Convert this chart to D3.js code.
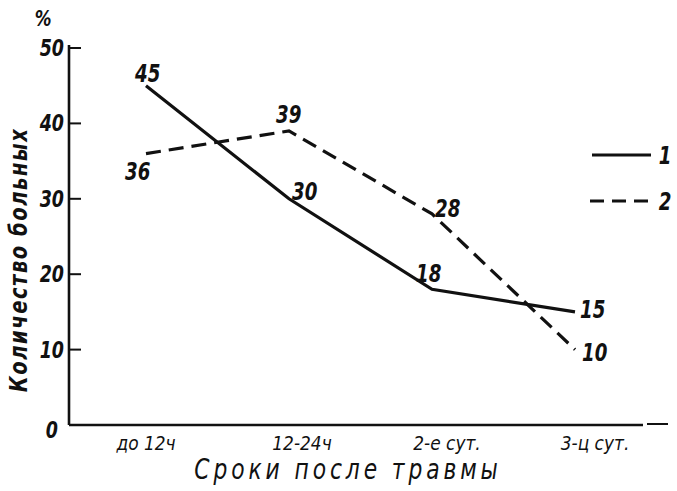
<!DOCTYPE html>
<html lang="ru">
<head>
<meta charset="UTF-8">
<title>Количество больных</title>
<script src="https://cdn.jsdelivr.net/npm/d3@7/dist/d3.min.js"></script>
<style>
  body { margin: 0; background: #fff; }
  svg { display: block; }
  text { font-family: "DejaVu Sans", sans-serif; font-style: italic; fill: #111; }
</style>
</head>
<body>
<svg id="mainsvg" width="677" height="491"></svg>
<script>
const categories = ["до 12ч", "12-24ч", "2-е сут.", "3-ц сут."]
const series1 = [45, 30, 18, 15]
const series2 = [36, 39, 28, 10]
const yTicks = [0, 10, 20, 30, 40, 50]
const seriesNames = ["1", "2"]

// сдвиг подписей категорий относительно точки
const catShift = [0, 13, 15, 20]
// где подписать каждую точку (dx, dy от точки, левый край)
const off1 = [[-11, -4], [3, 1], [-16, -7], [5, 6]]
const off2 = [[-21, 26], [-13, -8], [3, 3], [7, 11]]

const svg = d3.select('#mainsvg')
const ink = '#111'
const narrow = 0.76  // чертёжный шрифт узкий

const x = d3.scalePoint().domain(categories).range([146, 575])
const y = d3.scaleLinear().domain([0, 50]).range([425, 48])
const x0 = 69

// текст, сжатый по ширине
const put = (sel, fx, fy, sx = narrow) =>
  sel.attr('transform', (d, i) => `translate(${fx(d, i)},${fy(d, i)}) scale(${sx},1)`)

// оси
svg.append('line').attr('x1', x0).attr('x2', x0).attr('y1', y(50) - 3).attr('y2', y(0))
  .attr('stroke', ink).attr('stroke-width', 2.6)
svg.append('line').attr('x1', x0).attr('x2', 643).attr('y1', y(0)).attr('y2', y(0))
  .attr('stroke', ink).attr('stroke-width', 2.6)
svg.append('line').attr('x1', 647).attr('x2', 668).attr('y1', y(0) - 1).attr('y2', y(0) - 1)
  .attr('stroke', ink).attr('stroke-width', 2)

svg.selectAll('.ytick').data(yTicks.filter(d => d > 0)).join('line')
  .attr('class', 'ytick')
  .attr('x1', x0).attr('x2', x0 + 12)
  .attr('y1', d => y(d)).attr('y2', d => y(d))
  .attr('stroke', ink).attr('stroke-width', 2)

put(svg.selectAll('.ylab').data(yTicks).join('text')
  .attr('class', 'ylab')
  .attr('text-anchor', 'end')
  .attr('font-size', 23).attr('font-weight', 'bold')
  .text(d => d),
  d => d === 0 ? x0 - 11 : x0 - 5,
  d => d === 0 ? y(d) + 13 : y(d) + 8)

put(svg.append('text').datum('%').attr('text-anchor', 'middle')
  .attr('font-size', 22).attr('font-weight', 'bold').text(d => d),
  () => 43, () => 26)

put(svg.selectAll('.xlab').data(categories).join('text')
  .attr('class', 'xlab')
  .attr('text-anchor', 'middle')
  .attr('font-size', 20)
  .text(d => d),
  (d, i) => x(d) + catShift[i], () => 450, 0.85)

put(svg.append('text').datum('Сроки  после  травмы').attr('text-anchor', 'middle')
  .attr('font-size', 28).attr('letter-spacing', 5)
  .text(d => d),
  () => 348, () => 479, 0.78)

svg.append('text')
  .attr('transform', 'translate(27,260) rotate(-90) scale(0.78,1)')
  .attr('text-anchor', 'middle')
  .attr('font-size', 25).attr('font-weight', 'bold').attr('letter-spacing', 2)
  .text('Количество   больных')

// линии
const line = d3.line().x((d, i) => x(categories[i])).y(d => y(d))

svg.append('path').datum(series1).attr('d', line)
  .attr('fill', 'none').attr('stroke', ink).attr('stroke-width', 3.2)
svg.append('path').datum(series2).attr('d', line)
  .attr('fill', 'none').attr('stroke', ink).attr('stroke-width', 3.2)
  .attr('stroke-dasharray', '15 8')

// подписи значений
const addLabels = (vals, offs, cls) => {
  put(svg.selectAll('.' + cls).data(vals).join('text')
    .attr('class', cls)
    .attr('text-anchor', 'start')
    .attr('font-size', 24).attr('font-weight', 'bold')
    .text(d => d),
    (d, i) => x(categories[i]) + offs[i][0],
    (d, i) => y(d) + offs[i][1])
}
addLabels(series1, off1, 'v1')
addLabels(series2, off2, 'v2')

// легенда
const legY = [155, 201]
svg.append('line').attr('x1', 592).attr('x2', 651).attr('y1', legY[0]).attr('y2', legY[0])
  .attr('stroke', ink).attr('stroke-width', 3.2)
svg.append('line').attr('x1', 590).attr('x2', 651).attr('y1', legY[1]).attr('y2', legY[1])
  .attr('stroke', ink).attr('stroke-width', 3.2).attr('stroke-dasharray', '14 8')
put(svg.selectAll('.leg').data(seriesNames).join('text')
  .attr('class', 'leg')
  .attr('text-anchor', 'middle')
  .attr('font-size', 24).attr('font-weight', 'bold')
  .text(d => d),
  () => 665, (d, i) => legY[i] + 9)
</script>
</body>
</html>
